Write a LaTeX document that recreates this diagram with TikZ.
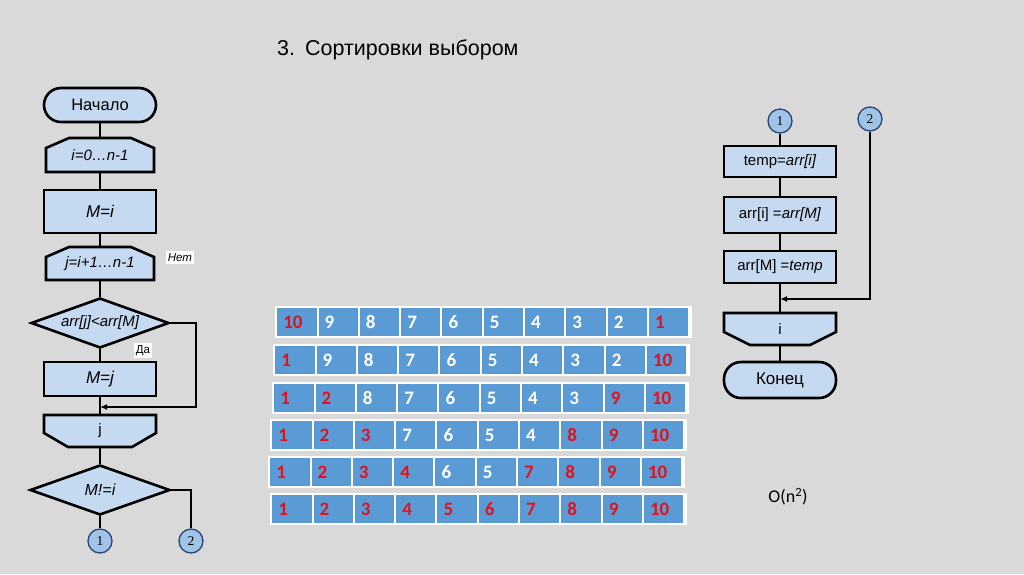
\documentclass[tikz,border=0pt]{standalone}
\usepackage{fontspec}
\setmainfont{Liberation Sans}
\newfontfamily\calibfont{Carlito}
\newfontfamily\numfont{Liberation Serif}
\usetikzlibrary{arrows.meta,shapes.geometric,positioning}
\definecolor{slidegray}{RGB}{217,217,217}
\definecolor{blockblue}{RGB}{197,217,241}
\definecolor{linkblue}{RGB}{160,195,232}
\definecolor{linkedge}{RGB}{40,68,115}
\definecolor{cellblue}{RGB}{91,155,213}
\definecolor{numred}{RGB}{226,18,28}

\begin{document}
\begin{tikzpicture}[x=1pt, y=-1pt,
  every node/.style={font=\fontsize{15}{17}\selectfont},
  block/.style={draw, line width=2.6pt, fill=blockblue, minimum width=112pt,
                minimum height=34pt, inner sep=0pt},
  term/.style={block, rounded corners=17pt, font=\fontsize{16.5}{18}\selectfont},
  loopshape/.style={draw, line width=2.6pt, fill=blockblue},
  loopnode/.style={minimum width=108pt, minimum height=34pt, inner sep=0pt},
  cond/.style={diamond, draw, line width=2.6pt, fill=blockblue, aspect=2.8,
               inner sep=0pt, minimum width=138pt, minimum height=50pt},
  link/.style={circle, draw=linkedge, line width=1.3pt, fill=linkblue,
               minimum size=24pt, inner sep=0pt, font=\numfont\fontsize{13.5}{14}\selectfont},
  wire/.style={line width=2.2pt},
  arw/.style={line width=1.8pt, -{Latex[length=7pt,width=6pt]}},
  tag/.style={fill=white, inner sep=2pt, font=\fontsize{11.5}{12}\selectfont},
  rowbox/.style={fill=white, anchor=north west, minimum width=417pt,
                 minimum height=32pt, inner sep=0pt},
  cell/.style={fill=cellblue, anchor=north west, minimum width=39.3pt,
               minimum height=28pt, inner ysep=0pt, inner xsep=6pt,
               text width=27pt, align=left,
               font=\calibfont\bfseries\fontsize{19}{19}\selectfont},
]

%% slide background
\fill[slidegray] (0,0) rectangle (1024,574);
\useasboundingbox (0,0) rectangle (1024,574);

%% title
\node[anchor=base west, inner sep=0pt, font=\fontsize{21.5}{24}\selectfont] (title) at (277,55)
  {3.\hspace{10pt}Сортировки выбором};

%% left flowchart: outer and inner loops
\filldraw[loopshape] (46,172) -- (46,148) -- (69,138) -- (131,138) -- (154,148) -- (154,172) -- cycle;
\filldraw[loopshape] (46,280) -- (46,257) -- (69,247) -- (131,247) -- (154,257) -- (154,280) -- cycle;
\filldraw[loopshape] (44,415) -- (156,415) -- (156,433) -- (132,447) -- (68,447) -- (44,433) -- cycle;

\node[term]     (start) at (100,105) {Начало};
\node[loopnode] (lp1)   at (100,155) {\itshape i=0…n-1};
\node[block, minimum height=43pt, font=\itshape\fontsize{17}{19}\selectfont] (mi) at (100,211.5) {M=i};
\node[loopnode] (lp2)   at (100,263.5) {\itshape j=i+1…n-1};
\node[cond]     (cnd1)  at (100,323) {\itshape arr[j]<arr[M]};
\node[block, font=\itshape\fontsize{17}{19}\selectfont] (mj) at (100,379) {M=j};
\node[loopnode, minimum width=112pt, minimum height=32pt] (lpe2) at (100,431) {j};
\node[cond, minimum width=140pt, font=\itshape\fontsize{16}{18}\selectfont] (cnd2) at (100,490) {M!=i};
\node[link]     (c1)    at (100,541) {1};
\node[link]     (c2)    at (191,541) {2};
\coordinate (mrg1) at (100,407);

\node[tag, font=\itshape\fontsize{11.5}{12}\selectfont] (no) at (180,257.5) {Нет};
\node[tag] (yes) at (143,350.5) {Да};

\draw[wire] (start) -- (lp1);
\draw[wire] (lp1) -- (mi);
\draw[wire] (mi) -- (lp2);
\draw[wire] (lp2) -- (cnd1);
\draw[wire] (cnd1) -- (mj);
\draw[wire] (mj) -- (lpe2);
\draw[wire] (lpe2) -- (cnd2);
\draw[wire] (cnd2) -- (c1);
\draw[wire] (cnd2.east) -| (c2);
\draw[arw] (cnd1.east) -- ++(26,0) |- (mrg1);

%% right flowchart: swap
\filldraw[loopshape] (724,313) -- (836,313) -- (836,332) -- (810,345) -- (750,345) -- (724,332) -- cycle;

\node[link]  (r1)   at (780,121) {1};
\node[link]  (r2)   at (870,119) {2};
\node[block, minimum height=31pt] (tmp)  at (780,161.5) {temp=\textit{arr[i]}};
\node[block, minimum height=36pt] (swp1) at (780,215) {arr[i] =\textit{arr[M]}};
\node[block, minimum height=32pt] (swp2) at (780,267) {arr[M] =\textit{temp}};
\node[loopnode, minimum width=112pt, minimum height=32pt] (lpe1) at (780,329) {i};
\node[term, minimum height=36pt, font=\fontsize{17}{19}\selectfont] (stop) at (780,380) {Конец};
\coordinate (mrg2) at (780,299);

\draw[wire] (r1) -- (tmp);
\draw[wire] (tmp) -- (swp1);
\draw[wire] (swp1) -- (swp2);
\draw[wire] (swp2) -- (lpe1);
\draw[wire] (lpe1) -- (stop);
\draw[arw] (r2) |- (mrg2);

\node[font=\calibfont\fontsize{18}{20}\selectfont] (cplx) at (788,497) {O(n\textsuperscript{2})};

%% array passes
\foreach \rx/\ry/\vals [count=\r] in {
  275/306/{10/numred,9/white,8/white,7/white,6/white,5/white,4/white,3/white,2/white,1/numred},
  273/344/{1/numred,9/white,8/white,7/white,6/white,5/white,4/white,3/white,2/white,10/numred},
  272/382/{1/numred,2/numred,8/white,7/white,6/white,5/white,4/white,3/white,9/numred,10/numred},
  270/419/{1/numred,2/numred,3/numred,7/white,6/white,5/white,4/white,8/numred,9/numred,10/numred},
  268/456/{1/numred,2/numred,3/numred,4/numred,6/white,5/white,7/numred,8/numred,9/numred,10/numred},
  270/493/{1/numred,2/numred,3/numred,4/numred,5/numred,6/numred,7/numred,8/numred,9/numred,10/numred}}
{
  \node[rowbox] (row\r) at (\rx,\ry) {};
  \foreach \v/\c [count=\k] in \vals
    \node[cell, text=\c] (r\r c\k) at (\rx+2+41.3*\k-41.3, \ry+2) {\v};
}

\end{tikzpicture}
\end{document}
